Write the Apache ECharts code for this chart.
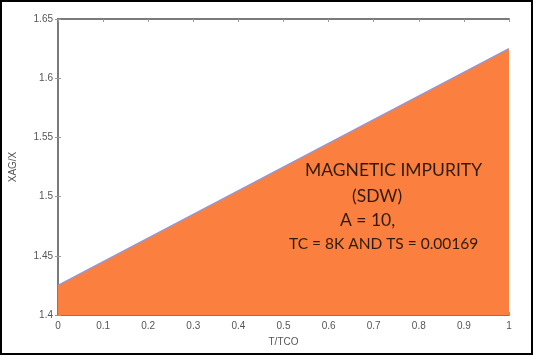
<!DOCTYPE html>
<html><head><meta charset="utf-8">
<script src="https://cdn.jsdelivr.net/npm/echarts@6/dist/echarts.min.js"></script>
<style>html,body{margin:0;padding:0;background:#fff}#c{width:535px;height:356px}</style>
</head><body><div id="c"></div>
<script>
const xValues = [0, 1];
const yValues = [1.425, 1.625];
const xTicks = ['0','0.1','0.2','0.3','0.4','0.5','0.6','0.7','0.8','0.9','1'];
const yTicks = ['1.4','1.45','1.5','1.55','1.6','1.65'];
const annotation = ['MAGNETIC IMPURITY', '(SDW)', 'A = 10,', 'TC = 8K AND TS = 0.00169'];

const chart = echarts.init(document.getElementById('c'), null, {renderer: 'canvas'});
const axisLine = {show: true, lineStyle: {color: '#7a7a7a', width: 2}};
const labelStyle = {color: '#555', fontFamily: 'Liberation Sans', fontSize: 10};
const txt = (s, x, y, size) => ({type: 'text', x: x, y: y, z: 100,
  style: {text: s, fill: '#2e1c10', font: size + 'px Lato', textVerticalAlign: 'middle'}});
chart.setOption({
  animation: false,
  grid: {left: 58, top: 19, right: 26, bottom: 41, show: false},
  xAxis: [{
    type: 'value', min: 0, max: 1, interval: 0.1,
    name: 'T/TCO', nameLocation: 'middle', nameGap: 22,
    nameTextStyle: {color: '#555', fontFamily: 'Liberation Sans', fontSize: 10},
    axisLine: axisLine,
    axisTick: {show: true, inside: true, length: 3, lineStyle: {color: '#999'}},
    axisLabel: Object.assign({margin: 6, formatter: v => xTicks[Math.round(v * 10)]}, labelStyle),
    splitLine: {show: false}
  }, {
    type: 'value', min: 0, max: 1, interval: 0.1, position: 'top',
    axisLine: axisLine,
    axisTick: {show: true, inside: true, length: 3, lineStyle: {color: '#999'}},
    axisLabel: {show: false}, splitLine: {show: false}
  }],
  yAxis: [{
    type: 'value', min: 1.4, max: 1.65, interval: 0.05,
    name: 'XAG/X', nameLocation: 'middle', nameGap: 40, nameRotate: 90,
    nameTextStyle: {color: '#555', fontFamily: 'Liberation Sans', fontSize: 10},
    axisLine: axisLine,
    axisTick: {show: true, inside: true, length: 3, lineStyle: {color: '#999'}},
    axisLabel: Object.assign({margin: 5, formatter: v => yTicks[Math.round((v - 1.4) / 0.05)]}, labelStyle),
    splitLine: {show: false}
  }, {
    type: 'value', min: 1.4, max: 1.65, interval: 0.05, position: 'right',
    axisLine: axisLine,
    axisTick: {show: true, inside: true, length: 3, lineStyle: {color: '#999'}},
    axisLabel: {show: false}, splitLine: {show: false}
  }],
  series: [{
    type: 'line',
    data: xValues.map((x, i) => [x, yValues[i]]),
    showSymbol: false,
    lineStyle: {color: '#9a96d0', width: 1.5},
    areaStyle: {color: '#fb7f3e', opacity: 1, origin: 'start'}
  }],
  graphic: {
    elements: [
      {type: 'rect', z: 100, shape: {x: 1, y: 1, width: 531, height: 353},
       style: {fill: 'none', stroke: '#000', lineWidth: 2}, silent: true},
      txt(annotation[0], 305, 170, 17.5),
      txt(annotation[1], 352, 196, 17.5),
      txt(annotation[2], 340, 220, 17.5),
      txt(annotation[3], 289, 244, 15.5)
    ]
  }
});
</script></body></html>
